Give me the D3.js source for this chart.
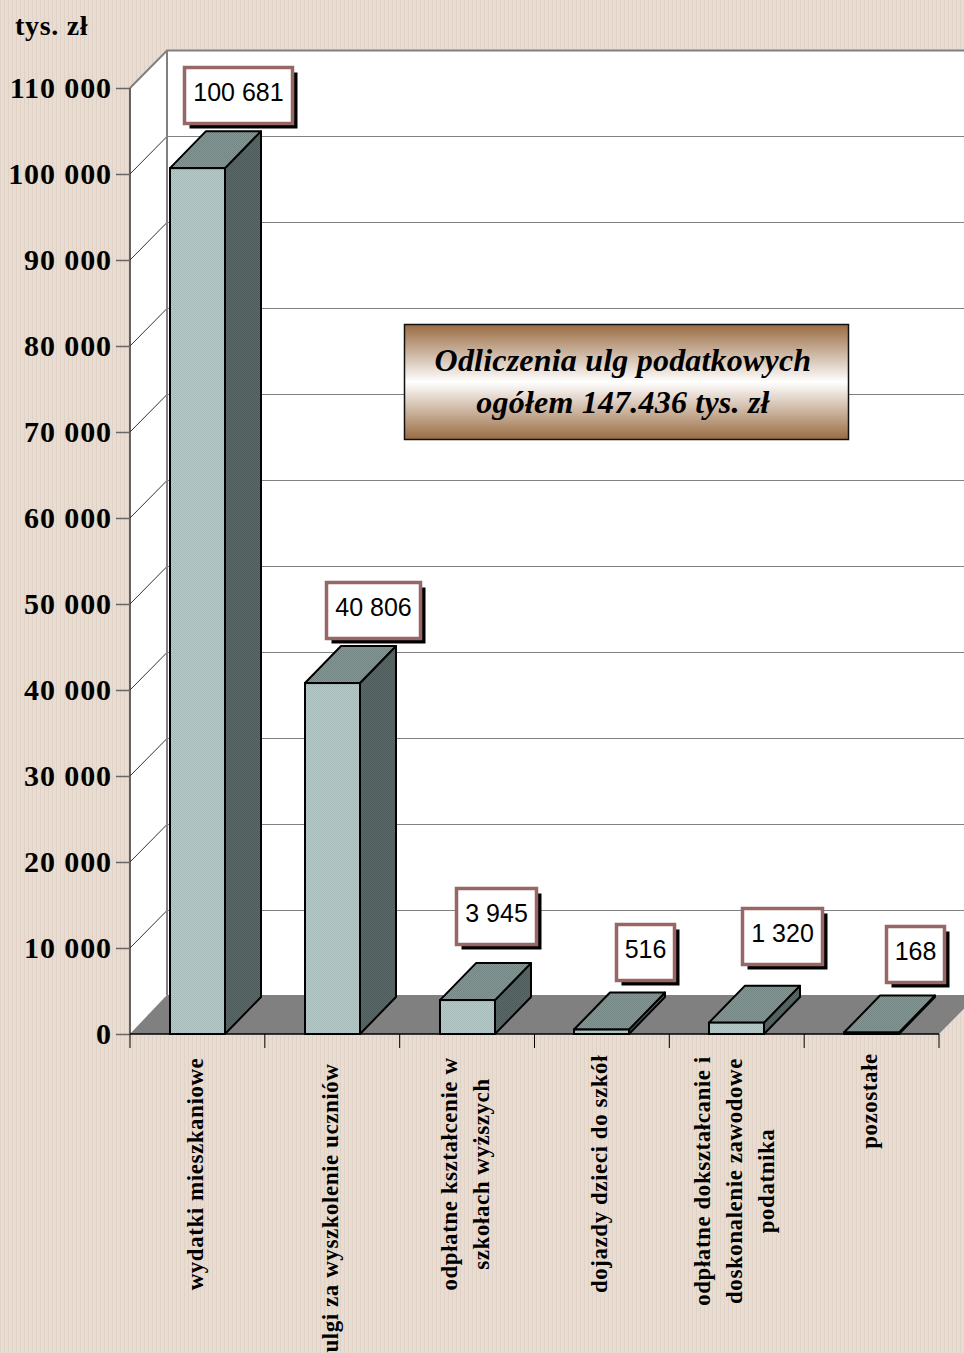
<!DOCTYPE html>
<html lang="pl"><head><meta charset="utf-8">
<script src="https://cdn.jsdelivr.net/npm/d3@7/dist/d3.min.js"></script>
<style>html,body{margin:0;padding:0;background:#e6d8ca}svg{display:block}</style>
</head><body><div id="chart"></div>
<script>
const categories = ["wydatki mieszkaniowe","ulgi za wyszkolenie uczniów","odpłatne kształcenie w|szkołach wyższych","dojazdy dzieci do szkół","odpłatne dokształcanie i|doskonalenie zawodowe|podatnika","pozostałe"];
const values = [100681,40806,3945,516,1320,168];
const valueLabels = ["100 681","40 806","3 945","516","1 320","168"];
const tickValues = [0,10000,20000,30000,40000,50000,60000,70000,80000,90000,100000,110000];
const tickLabels = ["0","10 000","20 000","30 000","40 000","50 000","60 000","70 000","80 000","90 000","100 000","110 000"];
const unitLabel = "tys. zł";
const titleLines = ["Odliczenia ulg podatkowych","ogółem 147.436 tys. zł"];

const W=964,H=1353, DX=37, DY=37.5, BDX=36, BDY=37;
const y=d3.scaleLinear().domain([0,110000]).range([1034,88]);
const x=d3.scaleBand().domain(categories).range([130,939]).paddingInner(0.592).paddingOuter(0.296);
const serif='"Liberation Serif","Times New Roman",serif', sans='"Liberation Sans",Arial,sans-serif';
const svg=d3.select("#chart").append("svg").attr("width",W).attr("height",H);
const defs=svg.append("defs");
function dots(id,base,dot,size){
  const p=defs.append("pattern").attr("id",id).attr("width",size).attr("height",size).attr("patternUnits","userSpaceOnUse");
  p.append("rect").attr("width",size).attr("height",size).attr("fill",base);
  p.append("rect").attr("width",1).attr("height",1).attr("fill",dot);
  p.append("rect").attr("x",size/2).attr("y",size/2).attr("width",1).attr("height",1).attr("fill",dot);
}
const bgP=defs.append("pattern").attr("id","bg").attr("width",4).attr("height",2).attr("patternUnits","userSpaceOnUse");
bgP.append("rect").attr("width",4).attr("height",2).attr("fill","#e9ddd2");
bgP.append("rect").attr("width",1).attr("height",2).attr("fill","#e0d2c6");
dots("front","#b6cccb","#a3b8b7",2);
dots("top","#84979a","#728583",2);
dots("side","#5c6b6a","#4c5a59",2);
const g=defs.append("linearGradient").attr("id","plate").attr("x1",0).attr("y1",0).attr("x2",0).attr("y2",1);
[[0,"#996b42"],[0.5,"#ffffff"],[1,"#996b42"]].forEach(s=>g.append("stop").attr("offset",s[0]).attr("stop-color",s[1]));

svg.append("rect").attr("width",W).attr("height",H).attr("fill","url(#bg)");

const y0=y(0), yTop=y(110000), xL=130, xR=939, floorBack=y0-39;
// back and side walls
svg.append("path").attr("fill","#fff").attr("d",`M${xL},${y0}L${xL},${yTop}L${xL+DX},${yTop-DY}L${W},${yTop-DY}L${W},${floorBack}L${xL+DX},${floorBack}Z`);
// floor, running off the right edge along its depth diagonal
svg.append("path").attr("fill","#808080").attr("d",`M${xL},${y0}L${xL+DX},${floorBack}L${W},${floorBack}L${W},${y0-(W-xR)*DY/DX}L${xR},${y0}Z`);
// gridlines
const grid=svg.append("g");
tickValues.slice(1,-1).forEach(v=>{
  grid.append("path").attr("fill","none").attr("stroke","#808080").attr("d",`M${xL+DX},${y(v)-DY}L${W},${y(v)-DY}`);
  grid.append("path").attr("fill","none").attr("stroke","#333").attr("d",`M${xL},${y(v)}L${xL+DX},${y(v)-DY}`);
});
// wall frame
svg.append("path").attr("fill","none").attr("stroke","#808080").attr("stroke-width",2).attr("d",`M${xL},${yTop}L${xL+DX},${yTop-DY}L${W},${yTop-DY}M${xL+DX},${yTop-DY}L${xL+DX},${floorBack}`);

// value axis
const yAxis=d3.axisLeft(y).tickValues(tickValues).tickFormat((d,i)=>tickLabels[i]).tickSize(14).tickPadding(4);
const ya=svg.append("g").attr("transform",`translate(${xL},0)`).call(yAxis);
ya.select(".domain").attr("stroke","#333").attr("stroke-width",1.5).attr("d",`M0,${yTop}V${y0}`);
ya.selectAll(".tick line").attr("stroke","#666").attr("stroke-width",1.5);
ya.selectAll(".tick text").attr("font-family",serif).attr("font-weight","bold").attr("font-size",30).attr("fill","#000").attr("dy","0.32em").attr("letter-spacing",0.9);

// category axis
const tickX=categories.map((c,i)=>xL+(xR-xL)*i/categories.length).concat([xR]);
svg.append("path").attr("stroke","#000").attr("stroke-width",1.5).attr("fill","none").attr("d",`M${xL},${y0}H${xR}`);
svg.selectAll(".xt").data(tickX).join("path").attr("stroke","#000").attr("d",d=>`M${d},${y0}v14`);

// bars
const bars=svg.selectAll(".bar").data(values).join("g").attr("class","bar");
const bw=Math.round(x.bandwidth());
bars.each(function(v,i){
  const s=d3.select(this), l=Math.round(x(categories[i])), t=y(v), r=l+bw;
  s.append("path").attr("fill","url(#side)").attr("stroke","#000").attr("stroke-width",2).attr("stroke-linejoin","round").attr("d",`M${r},${y0}L${r+BDX},${y0-BDY}L${r+BDX},${t-BDY}L${r},${t}Z`);
  s.append("path").attr("fill","url(#top)").attr("stroke","#000").attr("stroke-width",2).attr("stroke-linejoin","round").attr("d",`M${l},${t}L${l+BDX},${t-BDY}L${r+BDX},${t-BDY}L${r},${t}Z`);
  s.append("rect").attr("x",l).attr("y",t).attr("width",bw).attr("height",y0-t).attr("fill","url(#front)").attr("stroke","#000").attr("stroke-width",2);
});

// value callouts
const labelBox=[[184.5,67.5,108,56],[326.5,582.5,94,56],[456.5,888.5,80,56],[616.5,924.5,58,56],[742.5,908.5,80,56],[886.5,926.5,58,56]];
labelBox.forEach((b,i)=>{
  svg.append("rect").attr("x",b[0]+5).attr("y",b[1]+5).attr("width",b[2]).attr("height",b[3]).attr("fill","#000");
  svg.append("rect").attr("x",b[0]).attr("y",b[1]).attr("width",b[2]).attr("height",b[3]).attr("fill","#fff").attr("stroke","#996666").attr("stroke-width",3.5);
  svg.append("text").attr("x",b[0]+b[2]/2).attr("y",b[1]+b[3]/2-4).attr("dy","0.36em").attr("text-anchor","middle").attr("font-family",sans).attr("font-size",25).attr("fill","#000").text(valueLabels[i]);
});

// title plate
svg.append("rect").attr("x",404.5).attr("y",324.5).attr("width",444).attr("height",115).attr("fill","url(#plate)").attr("stroke","#111").attr("stroke-width",1.5);
titleLines.forEach((t,i)=>svg.append("text").attr("x",623).attr("y",371+i*42).attr("text-anchor","middle").attr("font-family",serif).attr("font-weight","bold").attr("font-style","italic").attr("font-size",32).attr("letter-spacing",0.2).attr("fill","#000").text(t));

// unit
svg.append("text").attr("x",15).attr("y",35).attr("font-family",serif).attr("font-weight","bold").attr("font-size",28).attr("letter-spacing",0.7).attr("fill","#000").text(unitLabel);

// category labels
const labelCenterY=[1174,1208,1174,1174,1181,1101];
categories.forEach((c,i)=>{
  const lines=c.split("|"), cx=x(c)+bw/2;
  lines.forEach((ln,j)=>{
    const off=(j-(lines.length-1)/2)*32;
    svg.append("text").attr("transform",`translate(${cx+off+5.5},${labelCenterY[i]}) rotate(-90)`).attr("text-anchor","middle").attr("font-family",serif).attr("font-weight","bold").attr("font-size",23).attr("letter-spacing",0.55).attr("fill","#000").text(ln);
  });
});
</script></body></html>
